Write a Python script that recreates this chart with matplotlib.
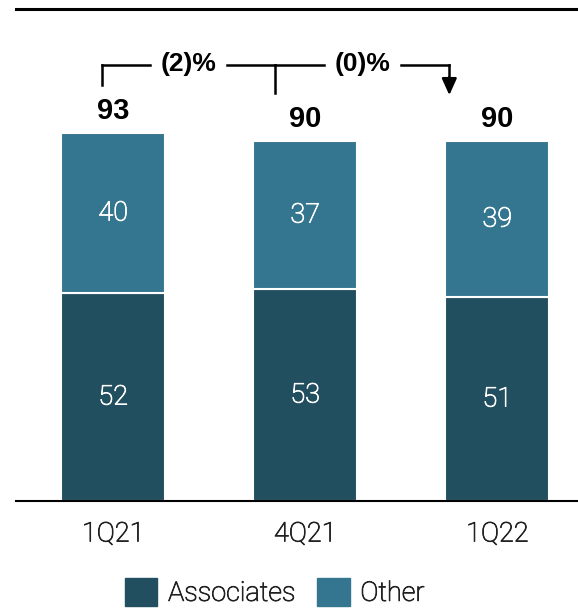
import matplotlib
matplotlib.use("Agg")
import numpy as np
from matplotlib import pyplot as plt
from matplotlib.patches import Patch
import matplotlib.patheffects as pe

# data
quarters = ["1Q21", "4Q21", "1Q22"]
associates = [52, 53, 51]
other = [40, 37, 39]
totals = [93, 90, 90]
changes = ["(2)%", "(0)%"]

DARK = "#224f5f"
LIGHT = "#34768f"
LIGHT_FONT = "Roboto"
BOLD_FONT = "Liberation Sans"


def thicken(color):
    # light font is a bit too thin on its own
    return [pe.withStroke(linewidth=0.6, foreground=color)]


fig = plt.figure(figsize=(5.78, 6.11), dpi=100)
ax = fig.add_axes([0.028, 0.18, 0.972, 0.805])

x = np.arange(len(quarters))
width = 0.54
ax.bar(x, associates, width, color=DARK, edgecolor="white", linewidth=1.5)
ax.bar(x, other, width, bottom=associates, color=LIGHT, edgecolor="white", linewidth=1.5)

for i in range(len(quarters)):
    ax.text(x[i], associates[i] / 2, str(associates[i]), ha="center", va="center",
            color="white", fontsize=19.5, family=LIGHT_FONT, fontweight="light",
            path_effects=thicken("white"))
    ax.text(x[i], associates[i] + other[i] / 2, str(other[i]), ha="center", va="center",
            color="white", fontsize=19.5, family=LIGHT_FONT, fontweight="light",
            path_effects=thicken("white"))
    ax.annotate(str(totals[i]), (x[i], associates[i] + other[i]), xytext=(0, 6),
                textcoords="offset points", ha="center", va="bottom",
                fontsize=21, fontweight="bold", family=BOLD_FONT)

# growth bracket
yb = 109
xs = [x[0] - 0.057, x[1] - 0.156, x[2] - 0.25]
ends = [104, 102]
ax.plot([xs[0], xs[0]], [ends[0], yb], color="black", lw=1.8)
ax.plot([xs[1], xs[1]], [ends[1], yb], color="black", lw=1.8)
ax.plot([xs[2], xs[2]], [ends[1] + 3, yb], color="black", lw=1.8)
ax.annotate("", xy=(xs[2], ends[1] - 0.5), xytext=(xs[2], ends[1] + 4),
            arrowprops=dict(arrowstyle="-|>,head_width=0.45,head_length=1.0",
                            color="black", lw=1.8, shrinkA=0, shrinkB=0))
for k, lab in enumerate(changes):
    mid = (xs[k] + xs[k + 1]) / 2
    gap = 0.2
    ax.plot([xs[k], mid - gap], [yb, yb], color="black", lw=1.8)
    ax.plot([mid + gap, xs[k + 1]], [yb, yb], color="black", lw=1.8)
    ax.text(mid, yb + 0.3, lab, ha="center", va="center", fontsize=19,
            fontweight="bold", family=BOLD_FONT)

ax.set_xlim(-0.505, 2.42)
ax.set_ylim(0, 123)
ax.set_xticks(x)
ax.set_xticklabels(quarters, fontsize=19.5, family=LIGHT_FONT, fontweight="light")
for t in ax.get_xticklabels():
    t.set_path_effects(thicken("#222222"))
    t.set_color("#222222")
ax.tick_params(axis="x", length=0, pad=14)
ax.set_yticks([])
for s in ["left", "right"]:
    ax.spines[s].set_visible(False)
ax.spines["top"].set_linewidth(2.2)
ax.spines["bottom"].set_linewidth(1.5)

handles = [Patch(color=DARK, label="Associates"), Patch(color=LIGHT, label="Other")]
leg = fig.legend(handles=handles, loc="upper center", bbox_to_anchor=(0.475, 1 - 567 / 611),
                 ncol=2, frameon=False, handlelength=1.2, handleheight=1.2,
                 handletextpad=0.4, columnspacing=0.8, borderaxespad=0,
                 prop={"family": LIGHT_FONT, "size": 19.5, "weight": "light"})
for t in leg.get_texts():
    t.set_path_effects(thicken("#222222"))
    t.set_color("#222222")

fig.savefig("out.png", dpi=100)
